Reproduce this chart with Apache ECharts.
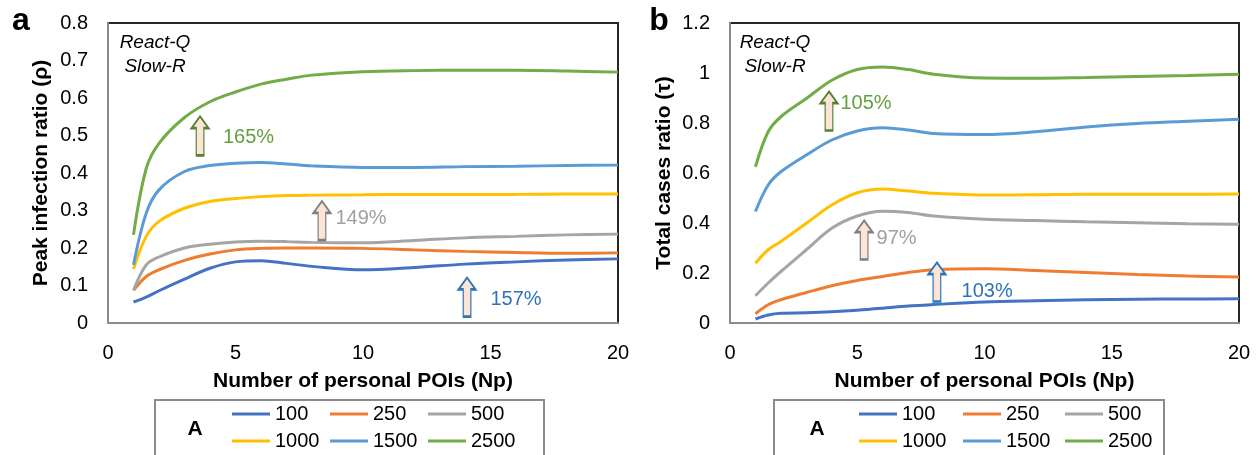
<!DOCTYPE html>
<html>
<head>
<meta charset="utf-8">
<script src="https://cdn.jsdelivr.net/npm/echarts@6/dist/echarts.min.js"></script>
<style>html,body{margin:0;padding:0;background:#fff}#c{width:1259px;height:455px}</style>
</head>
<body>
<div id="c"></div>
<script>
// ---- data ----
const np = [1, 1.5, 2, 3, 4, 5, 6, 7, 8, 10, 12, 14, 16, 18, 20];
const seriesNames = ['100', '250', '500', '1000', '1500', '2500'];
const colors = ['#4472c4', '#ed7d31', '#a5a5a5', '#ffc000', '#5b9bd5', '#70ad47'];

// panel a: peak infection ratio
const a100  = [0.056,0.069,0.086,0.117,0.146,0.163,0.166,0.159,0.151,0.142,0.148,0.157,0.163,0.168,0.171];
const a250  = [0.087,0.124,0.142,0.167,0.184,0.195,0.199,0.200,0.200,0.199,0.195,0.191,0.188,0.186,0.187];
const a500  = [0.087,0.155,0.176,0.200,0.210,0.216,0.218,0.217,0.215,0.214,0.220,0.227,0.231,0.235,0.237];
const a1000 = [0.144,0.231,0.271,0.306,0.324,0.332,0.337,0.340,0.341,0.342,0.343,0.343,0.343,0.344,0.344];
const a1500 = [0.155,0.293,0.355,0.404,0.420,0.426,0.428,0.424,0.419,0.415,0.415,0.417,0.418,0.420,0.421];
const a2500 = [0.235,0.412,0.479,0.548,0.590,0.616,0.637,0.650,0.661,0.670,0.673,0.674,0.674,0.672,0.669];

// panel b: total cases ratio
const b100  = [0.016,0.032,0.039,0.041,0.045,0.051,0.059,0.068,0.074,0.084,0.089,0.093,0.095,0.096,0.097];
const b250  = [0.037,0.073,0.093,0.122,0.149,0.170,0.186,0.202,0.213,0.217,0.210,0.202,0.194,0.188,0.184];
const b500  = [0.109,0.160,0.206,0.293,0.379,0.428,0.447,0.442,0.428,0.415,0.410,0.405,0.401,0.397,0.395];
const b1000 = [0.239,0.293,0.326,0.399,0.472,0.521,0.536,0.528,0.519,0.512,0.513,0.515,0.515,0.515,0.516];
const b1500 = [0.446,0.552,0.605,0.672,0.732,0.768,0.781,0.772,0.758,0.754,0.765,0.784,0.798,0.807,0.815];
const b2500 = [0.625,0.765,0.825,0.898,0.971,1.014,1.024,1.014,0.995,0.980,0.979,0.982,0.986,0.990,0.995];

const xTicks = [0, 5, 10, 15, 20];

// annotations (arrow position, text position, label)
const annA = [
  {series: 5, ax: 3.61, ay: 0.499, tx: 4.49, ty: 0.496, text: '165%', color: '#62a03f', edge: '#548235'},
  {series: 2, ax: 8.39, ay: 0.273, tx: 8.90, ty: 0.280, text: '149%', color: '#a0a0a0', edge: '#7f7f7f'},
  {series: 0, ax: 14.08, ay: 0.069, tx: 14.98, ty: 0.064, text: '157%', color: '#2e75b6', edge: '#2e75b6'}
];
const annB = [
  {series: 5, ax: 3.89, ay: 0.848, tx: 4.32, ty: 0.880, text: '105%', color: '#62a03f', edge: '#548235'},
  {series: 2, ax: 5.27, ay: 0.332, tx: 5.74, ty: 0.340, text: '97%', color: '#a0a0a0', edge: '#7f7f7f'},
  {series: 0, ax: 8.13, ay: 0.164, tx: 9.08, ty: 0.128, text: '103%', color: '#2e75b6', edge: '#2e75b6'}
];

// ---- chart ----
const FONT = '"Liberation Sans", Arial, sans-serif';
const arrowPath = 'path://M10,0 L20,12 L14.5,12 L14.5,40 L5.5,40 L5.5,12 L0,12 Z';
const valsA = [a100, a250, a500, a1000, a1500, a2500];
const valsB = [b100, b250, b500, b1000, b1500, b2500];

function markFor(ann, idx) {
  const items = [];
  ann.filter(a => a.series === idx).forEach(a => {
    items.push({coord: [a.ax, a.ay], symbol: arrowPath, symbolSize: [17, 39], symbolKeepAspect: false,
      itemStyle: {color: '#fce4d6', borderColor: a.edge, borderWidth: 1.8}, label: {show: false}});
    items.push({coord: [a.tx, a.ty], symbol: 'circle', symbolSize: 1,
      itemStyle: {color: 'rgba(0,0,0,0)'},
      label: {show: true, position: 'right', distance: 0, formatter: a.text, color: a.color, fontSize: 20, fontFamily: FONT}});
  });
  return items.length ? {silent: true, animation: false, data: items} : undefined;
}

const series = [];
[valsA, valsB].forEach((vals, g) => {
  vals.forEach((v, i) => {
    series.push({
      name: seriesNames[i], type: 'line', xAxisIndex: g, yAxisIndex: g,
      data: np.map((x, k) => [x, v[k]]),
      smooth: 0.35, showSymbol: false, symbol: 'none',
      lineStyle: {width: 3, color: colors[i]}, itemStyle: {color: colors[i]},
      markPoint: markFor(g === 0 ? annA : annB, i),
      animation: false, z: 3
    });
  });
});

function xAxis(g) {
  return {gridIndex: g, type: 'value', min: xTicks[0], max: xTicks[xTicks.length - 1], interval: 5,
    name: 'Number of personal POIs (Np)', nameLocation: 'middle', nameGap: 48,
    nameTextStyle: {fontSize: 21, fontWeight: 'bold', color: '#000', fontFamily: FONT},
    axisLine: {show: true, lineStyle: {color: '#8c8c8c', width: 2}}, axisTick: {show: false},
    splitLine: {show: false}, axisLabel: {margin: 20, fontSize: 20, color: '#000', fontFamily: FONT}};
}
function yAxis(g, max, interval, name, gap) {
  return {gridIndex: g, type: 'value', min: 0, max: max, interval: interval,
    name: name, nameLocation: 'middle', nameGap: gap, nameRotate: 90,
    nameTextStyle: {fontSize: 21, fontWeight: 'bold', color: '#000', fontFamily: FONT},
    axisLine: {show: true, lineStyle: {color: '#8c8c8c', width: 2}}, axisTick: {show: false},
    splitLine: {show: false}, axisLabel: {margin: 20, fontSize: 20, color: '#000', fontFamily: FONT}};
}

function legendCol(left, names) {
  return {orient: 'vertical', left: left, top: 402, padding: 0, itemGap: 3,
    itemWidth: 38, itemHeight: 3, icon: 'rect', data: names, selectedMode: false,
    textStyle: {fontSize: 20, lineHeight: 24, color: '#000', fontFamily: FONT}};
}

const chart = echarts.init(document.getElementById('c'), null, {renderer: 'canvas'});
chart.setOption({
  backgroundColor: '#fff',
  animation: false,
  grid: [
    {left: 108, top: 23, width: 510, height: 300, show: true, borderColor: '#262626', borderWidth: 2, backgroundColor: 'transparent'},
    {left: 730, top: 23, width: 509, height: 300, show: true, borderColor: '#262626', borderWidth: 2, backgroundColor: 'transparent'}
  ],
  xAxis: [xAxis(0), xAxis(1)],
  yAxis: [yAxis(0, 0.8, 0.1, 'Peak infection ratio (ρ)', 56), yAxis(1, 1.2, 0.2, 'Total cases ratio (τ)', 55)],
  legend: [
    legendCol(232, ['100', '1000']), legendCol(330, ['250', '1500']), legendCol(428, ['500', '2500']),
    legendCol(859, ['100', '1000']), legendCol(963, ['250', '1500']), legendCol(1065, ['500', '2500'])
  ],
  graphic: [
    {type: 'rect', shape: {x: 155, y: 400, width: 389, height: 80}, style: {fill: 'none', stroke: '#8c8c8c', lineWidth: 2}, silent: true},
    {type: 'rect', shape: {x: 774, y: 400, width: 390, height: 80}, style: {fill: 'none', stroke: '#8c8c8c', lineWidth: 2}, silent: true},
    {type: 'text', x: 195, y: 429, style: {text: 'A', font: 'bold 21px ' + FONT, fill: '#000', align: 'center', verticalAlign: 'middle'}},
    {type: 'text', x: 817, y: 429, style: {text: 'A', font: 'bold 21px ' + FONT, fill: '#000', align: 'center', verticalAlign: 'middle'}},
    {type: 'text', x: 21, y: 21, style: {text: 'a', font: 'bold 32px ' + FONT, fill: '#000', align: 'center', verticalAlign: 'middle'}},
    {type: 'text', x: 659, y: 21, style: {text: 'b', font: 'bold 32px ' + FONT, fill: '#000', align: 'center', verticalAlign: 'middle'}},
    {type: 'text', x: 155, y: 43, style: {text: 'React-Q', font: 'italic 19px ' + FONT, fill: '#000', align: 'center', verticalAlign: 'middle'}},
    {type: 'text', x: 155, y: 67, style: {text: 'Slow-R', font: 'italic 19px ' + FONT, fill: '#000', align: 'center', verticalAlign: 'middle'}},
    {type: 'text', x: 775, y: 43, style: {text: 'React-Q', font: 'italic 19px ' + FONT, fill: '#000', align: 'center', verticalAlign: 'middle'}},
    {type: 'text', x: 775, y: 67, style: {text: 'Slow-R', font: 'italic 19px ' + FONT, fill: '#000', align: 'center', verticalAlign: 'middle'}}
  ],
  series: series
});
</script>
</body>
</html>
